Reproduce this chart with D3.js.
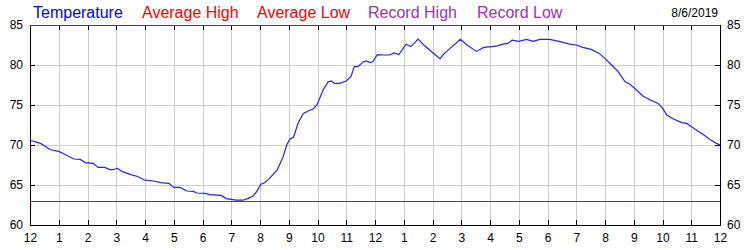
<!DOCTYPE html>
<html>
<head>
<meta charset="utf-8">
<script src="https://cdn.jsdelivr.net/npm/d3@7"></script>
<style>
  body { margin: 0; background: #fff; }
  text { font-family: "Liberation Sans", Arial, sans-serif; }
</style>
</head>
<body>
<script>
// Chart size
var svgWidth = 750;
var svgHeight = 250;

var margin = { top: 25, right: 30, bottom: 25, left: 30 };
var chartWidth = svgWidth - margin.left - margin.right;
var chartHeight = svgHeight - margin.top - margin.bottom;

// Data (hours since midnight, deg F)
var hours = [0, 0.37, 0.71, 1, 1.12, 1.52, 1.75, 1.92, 2.2, 2.37, 2.6, 2.8, 2.97, 3.03, 3.2, 3.5, 3.72, 4,
  4.3, 4.55, 4.83, 5, 5.22, 5.45, 5.68, 5.8, 6.1, 6.25, 6.65, 6.83, 7, 7.17, 7.4, 7.57, 7.75, 7.89,
  8.03, 8.17, 8.32, 8.6, 8.8, 8.93, 9.03, 9.17, 9.32, 9.5, 9.67, 9.85, 9.98, 10.2, 10.37, 10.48,
  10.6, 10.77, 11, 11.17, 11.28, 11.4, 11.6, 11.7, 11.83, 11.92, 12.08, 12.3, 12.5, 12.67, 12.83,
  13.08, 13.25, 13.5, 13.73, 14.02, 14.26, 14.4, 14.65, 14.97, 15.2, 15.53, 15.78, 16.07, 16.25,
  16.45, 16.62, 16.77, 17, 17.27, 17.5, 17.73, 18.07, 18.4, 18.77, 19, 19.23, 19.52, 19.8, 20,
  20.23, 20.45, 20.7, 20.87, 21.03, 21.33, 21.6, 21.85, 22, 22.15, 22.38, 22.67, 22.84, 23, 23.2,
  23.42, 23.65, 23.88, 24];
var temps = [70.6, 70.2, 69.4, 69.2, 69.0, 68.25, 68.2, 67.8, 67.7, 67.2, 67.2, 66.9, 67.0, 67.1, 66.7, 66.3, 66.1, 65.6,
  65.5, 65.3, 65.2, 64.7, 64.7, 64.25, 64.2, 64.0, 63.95, 63.8, 63.7, 63.3, 63.2, 63.1, 63.1, 63.3, 63.6, 64.2,
  65.1, 65.3, 65.8, 66.9, 68.5, 70.0, 70.7, 71.0, 72.7, 73.9, 74.25, 74.5, 75.0, 76.9, 77.9, 78.0,
  77.7, 77.7, 78.0, 78.6, 79.8, 79.8, 80.4, 80.5, 80.3, 80.4, 81.3, 81.25, 81.25, 81.5, 81.3,
  82.6, 82.3, 83.25, 82.4, 81.5, 80.8, 81.4, 82.2, 83.2, 82.5, 81.7, 82.2, 82.3, 82.4,
  82.6, 82.7, 83.1, 82.95, 83.2, 82.95, 83.2, 83.2, 82.95, 82.6, 82.5, 82.2, 81.95, 81.45, 80.8,
  80.0, 79.2, 77.9, 77.6, 77.1, 76.1, 75.6, 75.2, 74.6, 73.75, 73.25, 72.8, 72.7, 72.3, 71.8,
  71.3, 70.7, 70.2, 70.0];
var avgHigh = [85, 85];
var avgLow = [63, 63];

var hourTicks = d3.range(0, 25);
var hourLabels = ["12", "1", "2", "3", "4", "5", "6", "7", "8", "9", "10", "11",
  "12", "1", "2", "3", "4", "5", "6", "7", "8", "9", "10", "11", "12"];
var tempTicks = [60, 65, 70, 75, 80, 85];

var legendItems = ["Temperature", "Average High", "Average Low", "Record High", "Record Low"];
var legendColors = ["#0000ff", "#ff0000", "#ff0000", "#9933aa", "#9933aa"];
var legendX = [33, 142, 257, 368, 477];
var dateLabel = "8/6/2019";

var svg = d3.select("body")
  .append("svg")
  .attr("width", svgWidth)
  .attr("height", svgHeight);

var chartGroup = svg.append("g")
  .attr("transform", `translate(${margin.left}, ${margin.top})`);

var xScale = d3.scaleLinear().domain([0, 24]).range([0, chartWidth]);
var yScale = d3.scaleLinear().domain([60, 85]).range([chartHeight, 0]);

// grid lines
chartGroup.append("g")
  .attr("transform", `translate(0, ${chartHeight})`)
  .call(d3.axisBottom(xScale).tickValues(hourTicks).tickSize(-chartHeight).tickFormat(""))
  .call(g => g.select(".domain").remove())
  .selectAll("line").attr("stroke", "#cccccc").attr("shape-rendering", "crispEdges");

chartGroup.append("g")
  .call(d3.axisLeft(yScale).tickValues(tempTicks).tickSize(-chartWidth).tickFormat(""))
  .call(g => g.select(".domain").remove())
  .selectAll("line").attr("stroke", "#cccccc").attr("shape-rendering", "crispEdges");

// axes with inward ticks
var bottomAxis = d3.axisBottom(xScale).tickValues(hourTicks)
  .tickSizeInner(-5).tickSizeOuter(0).tickPadding(8)
  .tickFormat((d, i) => hourLabels[i]);
var topAxis = d3.axisTop(xScale).tickValues(hourTicks)
  .tickSizeInner(-5).tickSizeOuter(0).tickFormat("");
var leftAxis = d3.axisLeft(yScale).tickValues(tempTicks)
  .tickSizeInner(-5).tickSizeOuter(0).tickPadding(7);
var rightAxis = d3.axisRight(yScale).tickValues(tempTicks)
  .tickSizeInner(-5).tickSizeOuter(0).tickPadding(7);

function styleAxis(g) {
  g.selectAll("line").attr("stroke", "#000").attr("shape-rendering", "crispEdges");
  g.select(".domain").attr("stroke", "#000").attr("shape-rendering", "crispEdges");
  g.selectAll("text").attr("fill", "#000").style("font-size", "12px");
}

chartGroup.append("g").attr("transform", `translate(0, ${chartHeight})`).call(bottomAxis).call(styleAxis);
chartGroup.append("g").call(topAxis).call(styleAxis);
chartGroup.append("g").call(leftAxis).call(styleAxis);
chartGroup.append("g").attr("transform", `translate(${chartWidth}, 0)`).call(rightAxis).call(styleAxis);

// average high / low lines
var flatLine = d3.line()
  .x((d, i) => xScale(i * 24))
  .y(d => yScale(d));

chartGroup.append("path")
  .datum(avgHigh)
  .attr("d", flatLine)
  .attr("fill", "none")
  .attr("stroke", "#ee0000")
  .attr("shape-rendering", "crispEdges");

chartGroup.append("path")
  .datum(avgLow)
  .attr("d", flatLine)
  .attr("fill", "none")
  .attr("stroke", "#ee0000")
  .attr("shape-rendering", "crispEdges");

// temperature line
var tempLine = d3.line()
  .x((d, i) => xScale(hours[i]))
  .y(d => yScale(d));

chartGroup.append("path")
  .datum(temps)
  .attr("d", tempLine)
  .attr("fill", "none")
  .attr("stroke", "#2222ff")
  .attr("stroke-width", 1.2);

// legend
svg.selectAll(".legend")
  .data(legendItems)
  .enter()
  .append("text")
  .attr("class", "legend")
  .attr("x", (d, i) => legendX[i])
  .attr("y", 18)
  .attr("fill", (d, i) => legendColors[i])
  .style("font-size", "16px")
  .text(d => d);

svg.append("text")
  .attr("x", 718)
  .attr("y", 17)
  .attr("text-anchor", "end")
  .attr("fill", "#000")
  .style("font-size", "12px")
  .text(dateLabel);
</script>
</body>
</html>
